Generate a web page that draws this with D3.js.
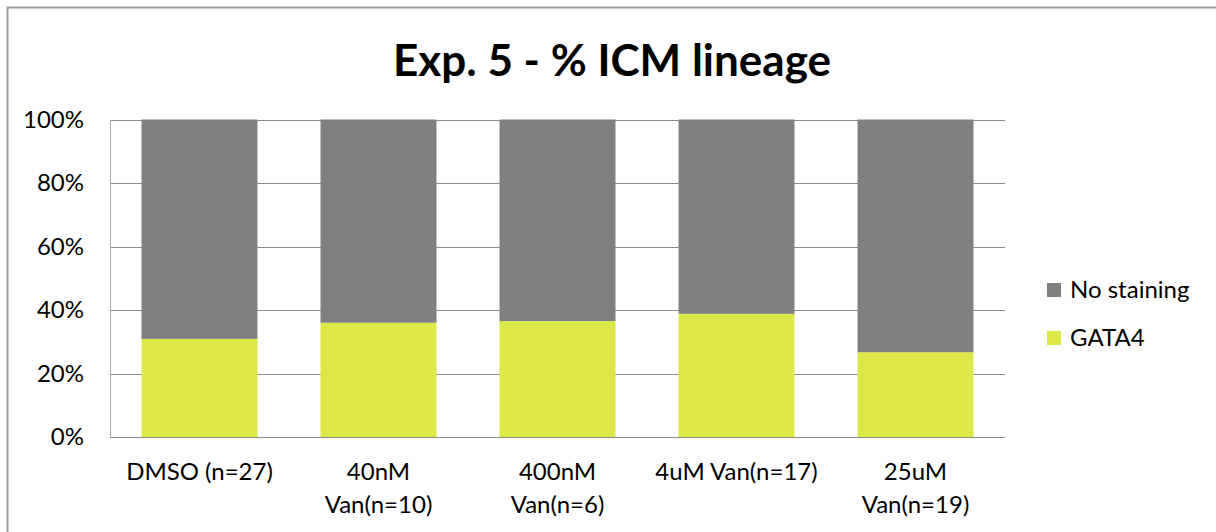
<!DOCTYPE html>
<html>
<head>
<meta charset="utf-8">
<script src="https://cdn.jsdelivr.net/npm/d3@7"></script>
<style>
  html, body { margin: 0; padding: 0; background: #fff; }
  svg { display: block; }
  text { font-family: Lato, "Open Sans", sans-serif; fill: #000; }
</style>
</head>
<body>
<svg id="chart" width="1216" height="532"></svg>
<script>
// Treatment groups (label lines as shown under each bar)
const categories = ["DMSO (n=27)", "40nM Van(n=10)", "400nM Van(n=6)", "4uM Van(n=17)", "25uM Van(n=19)"];
const categoryLines = [["DMSO (n=27)"], ["40nM", "Van(n=10)"], ["400nM", "Van(n=6)"], ["4uM Van(n=17)"], ["25uM", "Van(n=19)"]];

// Percent of ICM cells per group
const gata4 = [30.9, 36.0, 36.5, 38.8, 26.7];
const noStaining = [69.1, 64.0, 63.5, 61.2, 73.3];

const yTicks = [0, 20, 40, 60, 80, 100];
const seriesNames = ["No staining", "GATA4"];
const seriesColors = { "GATA4": "#dce847", "No staining": "#808080" };

const svg = d3.select("#chart");
const W = 1216, H = 532;
const plot = { left: 110, right: 1005, top: 119.5, bottom: 437 };
const labelSize = "24px";

// Outer chart frame (only top/left edges fall inside the view)
svg.append("path")
  .attr("d", `M7.5,${H} V7.5 H${W}`)
  .attr("fill", "none").attr("stroke", "#9b9b9b").attr("stroke-width", 2);

// Title
svg.append("text")
  .attr("x", 612).attr("y", 76)
  .attr("text-anchor", "middle")
  .style("font-size", "44px").style("font-weight", "bold")
  .text("Exp. 5 - % ICM lineage");

const x = d3.scaleBand().domain(categories)
  .range([plot.left, plot.right])
  .paddingInner(0.352).paddingOuter(0.176);
const y = d3.scaleLinear().domain([0, 100]).range([plot.bottom, plot.top]);

// Gridlines
svg.append("g").selectAll("line").data(yTicks.filter(t => t > 0)).join("line")
  .attr("x1", plot.left).attr("x2", plot.right)
  .attr("y1", d => Math.round(y(d)) + 0.5).attr("y2", d => Math.round(y(d)) + 0.5)
  .attr("stroke", "#8c8c8c").attr("stroke-width", 1);

// Y axis
const yAxis = svg.append("g")
  .attr("transform", `translate(${plot.left},0)`)
  .call(d3.axisLeft(y).tickValues(yTicks).tickFormat(d => d + "%").tickSize(0).tickPadding(26));
yAxis.select(".domain").attr("stroke", "#b0b0b0");
yAxis.selectAll("text").style("font-size", labelSize).style("font-family", "Lato, sans-serif").attr("fill", "#000");

// Stacked bars
const rows = categories.map((c, i) => ({ cat: c, "GATA4": gata4[i], "No staining": noStaining[i] }));
const stack = d3.stack().keys(["GATA4", "No staining"])(rows);
svg.append("g").selectAll("g").data(stack).join("g")
  .attr("fill", d => seriesColors[d.key])
  .selectAll("rect").data(d => d).join("rect")
  .attr("x", d => x(d.data.cat))
  .attr("width", x.bandwidth())
  .attr("y", d => y(d[1]))
  .attr("height", d => y(d[0]) - y(d[1]));

// X axis line
svg.append("line")
  .attr("x1", plot.left).attr("x2", plot.right)
  .attr("y1", Math.round(y(0)) + 0.5).attr("y2", Math.round(y(0)) + 0.5)
  .attr("stroke", "#8c8c8c");

// Category labels
const catLabels = svg.append("g").selectAll("text").data(categories).join("text")
  .attr("text-anchor", "middle")
  .attr("x", d => x(d) + x.bandwidth() / 2)
  .attr("y", 480)
  .style("font-size", labelSize);
catLabels.selectAll("tspan").data((d, i) => categoryLines[i]).join("tspan")
  .attr("x", function() { return d3.select(this.parentNode).attr("x"); })
  .attr("dy", (d, i) => i === 0 ? 0 : 33)
  .text(d => d);

// Legend
const legend = svg.append("g").selectAll("g").data(seriesNames).join("g")
  .attr("transform", (d, i) => `translate(1047,${283 + i * 48})`);
legend.append("rect").attr("width", 14).attr("height", 14).attr("fill", d => seriesColors[d]);
legend.append("text").attr("x", 23).attr("y", 15).style("font-size", labelSize).text(d => d);
</script>
</body>
</html>
